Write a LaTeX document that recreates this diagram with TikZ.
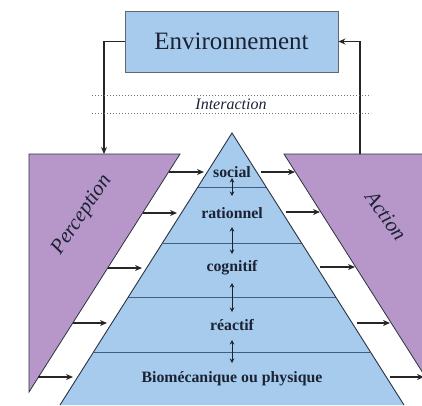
\documentclass[tikz,border=0pt]{standalone}
\usepackage{fontspec}
\setmainfont{Liberation Serif}
\usetikzlibrary{arrows.meta}
\definecolor{pblue}{HTML}{A6CBEC}
\definecolor{ppurple}{HTML}{B797C9}
\definecolor{textc}{HTML}{1B2233}
\definecolor{lvlline}{HTML}{3F5F80}
\definecolor{edgec}{HTML}{2B3340}
\begin{document}
\begin{tikzpicture}[x=1pt,y=-1pt,
  arr/.style={-{Stealth[length=7pt,width=6pt]}, line width=1.3pt, black!85},
  dbl/.style={{Stealth[length=4.5pt,width=4.5pt]}-{Stealth[length=4.5pt,width=4.5pt]}, line width=1pt, textc},
  lvl/.style={font=\fontsize{15.8}{18}\selectfont\bfseries, text=textc, inner sep=0pt},
  envbox/.style={draw=black!60, line width=0.9pt, fill=pblue, minimum width=213pt, minimum height=61pt, font=\fontsize{25}{28}\selectfont, text=textc, inner sep=0pt},
  sidelabel/.style={font=\fontsize{21}{24}\selectfont\itshape, text=textc, inner sep=0pt},
  sideshape/.style={fill=ppurple, draw=edgec, line width=0.8pt},
  dotline/.style={draw=black!55, line width=1pt, dotted},
  levelline/.style={draw=lvlline, line width=1pt}]
\useasboundingbox (0,0) rectangle (422,405);
\clip (0,0) rectangle (422,405);

% Pyramid
\fill[pblue] (232,133) -- (60,405) -- (404,405) -- cycle;
\draw[levelline] (197.9,187) -- (266.1,187);
\draw[levelline] (162.5,243) -- (301.5,243);
\draw[levelline] (128.4,297) -- (335.6,297);
\draw[levelline] (93.6,352) -- (370.4,352);
\draw[edgec, line width=0.9pt] (60,405) -- (232,133) -- (404,405);

% Side shapes
\draw[sideshape] (29,154) -- (180,154) -- (29,392) -- cycle;
\draw[sideshape] (284,154) -- (435,154) -- (435,392) -- cycle;
\node[sidelabel, rotate=56] (perc) at (82,215) {Perception};
\node[sidelabel, rotate=-54] (act) at (386,216) {Action};

% Environment
\node[envbox] (env) at (231.5,41.5) {Environnement};
\coordinate (ptop) at (104,154);
\coordinate (atop) at (360,154);
\draw[arr] (env.west) -| (ptop);
\draw[arr] (atop) |- (env.east);

% Interaction
\draw[dotline] (92,95) -- (371,95);
\draw[dotline] (92,113) -- (371,113);
\node[font=\fontsize{16}{18}\selectfont\itshape, text=textc, inner sep=0pt] (inter) at (231,104) {Interaction};

% Level labels
\node[lvl] (l1) at (232,172) {social};
\node[lvl] (l2) at (232,213) {rationnel};
\node[lvl] (l3) at (232,268) {cognitif};
\node[lvl] (l4) at (232,325) {réactif};
\node[lvl] (l5) at (232,379) {Biomécanique ou physique};

% Double arrows between levels
\coordinate (d1a) at (232,178); \coordinate (d1b) at (232,196);
\coordinate (d2a) at (232,227); \coordinate (d2b) at (232,254);
\coordinate (d3a) at (232,283); \coordinate (d3b) at (232,312);
\coordinate (d4a) at (232,340); \coordinate (d4b) at (232,363);
\draw[dbl] (d1a) -- (d1b);
\draw[dbl] (d2a) -- (d2b);
\draw[dbl] (d3a) -- (d3b);
\draw[dbl] (d4a) -- (d4b);

% Perception -> pyramid arrows
\coordinate (pa1) at (169,172); \coordinate (pb1) at (204,172);
\coordinate (pa2) at (143,213); \coordinate (pb2) at (177,213);
\coordinate (pa3) at (108,268); \coordinate (pb3) at (142,268);
\coordinate (pa4) at (73,323);  \coordinate (pb4) at (107,323);
\coordinate (pa5) at (38,377);  \coordinate (pb5) at (73,377);
\foreach \i in {1,...,5} {\draw[arr] (pa\i) -- (pb\i);}

% Pyramid -> action arrows
\coordinate (aa1) at (261,172); \coordinate (ab1) at (295,172);
\coordinate (aa2) at (286,212); \coordinate (ab2) at (320,212);
\coordinate (aa3) at (320,267); \coordinate (ab3) at (355,267);
\coordinate (aa4) at (357,323); \coordinate (ab4) at (390,323);
\coordinate (aa5) at (390,377); \coordinate (ab5) at (424,377);
\foreach \i in {1,...,5} {\draw[arr] (aa\i) -- (ab\i);}
\end{tikzpicture}
\end{document}
